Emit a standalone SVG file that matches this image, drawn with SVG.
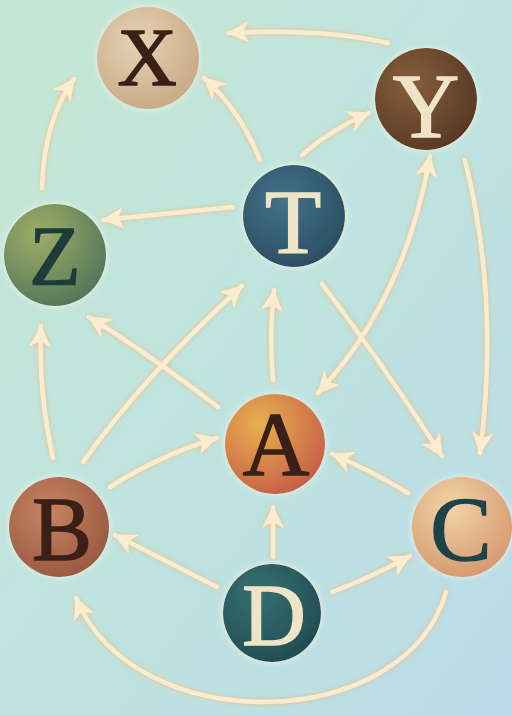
<svg xmlns="http://www.w3.org/2000/svg" width="512" height="715" viewBox="0 0 512 715">
<defs>
<linearGradient id="bg" x1="0" y1="0" x2="1" y2="1">
<stop offset="0" stop-color="#c6e7d6"/>
<stop offset="0.5" stop-color="#bfe4df"/>
<stop offset="1" stop-color="#badbe8"/>
</linearGradient>
<radialGradient id="gX" cx="0.4" cy="0.35" r="0.7"><stop offset="0" stop-color="#e6d2b4"/><stop offset="1" stop-color="#c8a986"/></radialGradient>
<radialGradient id="gY" cx="0.35" cy="0.35" r="0.75"><stop offset="0" stop-color="#86603c"/><stop offset="1" stop-color="#553622"/></radialGradient>
<radialGradient id="gT" cx="0.4" cy="0.35" r="0.75"><stop offset="0" stop-color="#43728a"/><stop offset="1" stop-color="#294a5e"/></radialGradient>
<radialGradient id="gZ" cx="0.35" cy="0.3" r="0.8"><stop offset="0" stop-color="#9eae68"/><stop offset="1" stop-color="#4f7358"/></radialGradient>
<radialGradient id="gA" cx="0.35" cy="0.3" r="0.8"><stop offset="0" stop-color="#e8b050"/><stop offset="1" stop-color="#c45a48"/></radialGradient>
<radialGradient id="gB" cx="0.4" cy="0.35" r="0.75"><stop offset="0" stop-color="#c88462"/><stop offset="1" stop-color="#955640"/></radialGradient>
<radialGradient id="gC" cx="0.4" cy="0.3" r="0.8"><stop offset="0" stop-color="#f0d4a4"/><stop offset="1" stop-color="#d4936c"/></radialGradient>
<radialGradient id="gD" cx="0.35" cy="0.3" r="0.8"><stop offset="0" stop-color="#357070"/><stop offset="1" stop-color="#214a52"/></radialGradient>
<filter id="glow" filterUnits="userSpaceOnUse" x="0" y="0" width="512" height="715">
<feDropShadow dx="0" dy="0" stdDeviation="2.5" flood-color="#f0b878" flood-opacity="0.85"/>
</filter>
<filter id="halo" x="-20%" y="-20%" width="140%" height="140%">
<feDropShadow dx="0" dy="0" stdDeviation="3" flood-color="#fbf3e2" flood-opacity="0.9"/>
</filter>
<marker id="ah" markerUnits="userSpaceOnUse" markerWidth="24" markerHeight="22" refX="21" refY="11" orient="auto-start-reverse" viewBox="0 0 24 22">
<path d="M0,0 L22,11 L0,22 L6,11 Z" fill="#fbecd0"/>
</marker>
<style>
.e{fill:none;stroke:#fbecd0;stroke-width:4.5;stroke-linecap:round;marker-end:url(#ah)}
.n circle{filter:url(#halo)}
.n text{font-family:"Liberation Serif","DejaVu Serif",serif;text-anchor:middle;font-size:92px;stroke-width:1.5}
.dk{fill:#3a2016;stroke:#3a2016}
.lt{fill:#f0e4c8;stroke:#f0e4c8}
</style>
</defs>
<rect width="512" height="715" fill="url(#bg)"/>
<g id="connectors" filter="url(#glow)">
<path class="e" d="M388,43 Q320,28 228,33"/>
<path class="e" d="M42,188 Q44,120 74,79"/>
<path class="e" d="M260,160 Q240,110 204,78"/>
<path class="e" d="M302,155 Q330,130 369,113"/>
<path class="e" d="M233,207 L103,220"/>
<path class="e" d="M318,393 Q405,300 430,156" style="marker-start:url(#ah)"/>
<path class="e" d="M465,160 Q500,300 480,453"/>
<path class="e" d="M322,284 Q380,360 442,456"/>
<path class="e" d="M273,380 Q269,335 274,290"/>
<path class="e" d="M83,462 Q145,375 242,286"/>
<path class="e" d="M218,407 Q150,355 89,317"/>
<path class="e" d="M53,458 Q38,390 41,326"/>
<path class="e" d="M110,487 Q160,455 217,438"/>
<path class="e" d="M408,493 Q370,470 332,454"/>
<path class="e" d="M273,557 L273,507"/>
<path class="e" d="M217,587 L115,535"/>
<path class="e" d="M332,592 Q370,578 410,556"/>
<path class="e" d="M446,592 C405,735 135,740 76,598"/>
</g>
<g id="node-X" class="n"><circle cx="148" cy="58" r="51" fill="url(#gX)"/><text x="147" y="85" class="dk" style="font-size:82px">X</text></g>
<g id="node-Y" class="n"><circle cx="426" cy="99" r="51" fill="url(#gY)"/><text x="426" y="137" class="lt">Y</text></g>
<g id="node-T" class="n"><circle cx="294" cy="216" r="51" fill="url(#gT)"/><text x="293" y="253" class="lt">T</text></g>
<g id="node-Z" class="n"><circle cx="55" cy="255" r="51" fill="url(#gZ)"/><text x="55" y="285" style="fill:#1e3c38;stroke:#1e3c38;font-size:84px">Z</text></g>
<g id="node-A" class="n"><circle cx="275" cy="444" r="50" fill="url(#gA)"/><text x="276" y="475" class="dk">A</text></g>
<g id="node-B" class="n"><circle cx="59" cy="527" r="50" fill="url(#gB)"/><text x="62" y="560" class="dk" style="font-size:90px">B</text></g>
<g id="node-C" class="n"><circle cx="462" cy="527" r="50" fill="url(#gC)"/><text x="461" y="560" style="fill:#1c4448;stroke:#1c4448">C</text></g>
<g id="node-D" class="n"><circle cx="272" cy="613" r="49" fill="url(#gD)"/><text x="274" y="645" class="lt" style="font-size:88px">D</text></g>
</svg>
